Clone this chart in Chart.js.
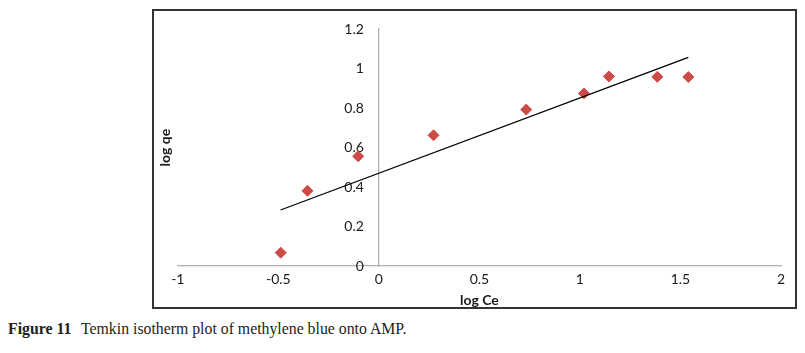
<!DOCTYPE html>
<html>
<head>
<meta charset="utf-8">
<script src="https://cdn.jsdelivr.net/npm/chart.js@4"></script>
<style>
  html, body { margin:0; padding:0; background:#fff; width:805px; height:353px; overflow:hidden; }
  #box { position:absolute; left:152px; top:9px; width:645px; height:300px; box-sizing:border-box; border:2px solid #333; background:#fff; }
  #chart { display:block; }
  #caption { position:absolute; left:8px; top:320px; font-family:"Liberation Serif", serif; font-size:15.8px; color:#222; white-space:nowrap; }
  #caption b { margin-right:6px; }
</style>
</head>
<body>
<div id="box"><canvas id="chart" width="641" height="296"></canvas></div>
<div id="caption"><b>Figure 11</b> Temkin isotherm plot of methylene blue onto AMP.</div>
<script>
/* ================= DATEN ================= */
const logCe = [-0.488, -0.355, -0.103, 0.272, 0.733, 1.020, 1.144, 1.385, 1.539];
const logQe = [0.068, 0.381, 0.556, 0.662, 0.792, 0.874, 0.960, 0.958, 0.957];

// Trendlinie (Endpunkte aus dem Bild gelesen)
const trendX = [-0.489, 1.539];
const trendY = [0.284, 1.056];

const xTicks = [-1, -0.5, 0, 0.5, 1, 1.5, 2];
const yTicks = [0, 0.2, 0.4, 0.6, 0.8, 1, 1.2];

/* ================= CHART ================= */
const FONT = "Lato";
const TXT = "#1a1a1a";

// y-Beschriftungen links von der Achse bei x=0 etwas abrücken
const shiftYLabels = {
    id: "shiftYLabels",
    beforeDraw(chart){
        const s = chart.scales.y;
        s.getLabelItems(chart.chartArea).forEach(it => { it.options.translation[0] -= 15; });
    }
};

new Chart(document.getElementById("chart"), {
    type: "scatter",
    data: {
        datasets: [
            {
                type: "line",
                label: "Trend",
                data: trendX.map((x, i) => ({x, y: trendY[i]})),
                borderColor: "#000",
                borderWidth: 1.3,
                pointRadius: 0,
                fill: false,
                yAxisID: "y"
            },
            {
                label: "log qe",
                data: logCe.map((x, i) => ({x, y: logQe[i]})),
                pointStyle: "rectRot",
                pointRadius: 5.5,
                backgroundColor: "#cd4a47",
                borderColor: "#cd4a47",
                borderWidth: 1,
                yAxisID: "y"
            }
        ]
    },
    plugins: [shiftYLabels],
    options: {
        responsive: false,
        animation: false,
        devicePixelRatio: 1,
        layout: {padding: {left: 0, right: 14, top: 18, bottom: 0}},
        plugins: {legend: {display: false}, tooltip: {enabled: false}},
        scales: {
            x: {
                type: "linear",
                position: "bottom",
                min: -1, max: 2,
                afterBuildTicks: s => { s.ticks = xTicks.map(v => ({value: v})); },
                grid: {display: false, drawTicks: false},
                border: {display: true, color: "#b0b0b0", width: 1.3},
                ticks: {color: TXT, font: {family: FONT, size: 14, lineHeight: 0.85}, padding: 7.5, maxRotation: 0,
                        callback: v => String(v)},
                title: {display: true, text: "log Ce", color: TXT,
                        font: {family: FONT, size: 14, weight: "bold", lineHeight: 1}, padding: {top: 0, bottom: 0}}
            },
            y: {
                type: "linear",
                position: {x: 0},
                min: 0, max: 1.2,
                afterBuildTicks: s => { s.ticks = yTicks.map(v => ({value: v})); },
                grid: {display: false, drawTicks: false},
                border: {display: true, color: "#b0b0b0", width: 1.3},
                ticks: {color: TXT, font: {family: FONT, size: 14}, padding: 0,
                        callback: v => String(v)}
            },
            yTitle: {
                type: "linear",
                position: "left",
                display: true,
                grid: {display: false, drawTicks: false},
                border: {display: false},
                ticks: {display: false},
                title: {display: true, text: "log qe", color: TXT,
                        font: {family: FONT, size: 14, weight: "bold"}, padding: {top: 3, bottom: 4}}
            }
        }
    }
});
</script>
</body>
</html>
